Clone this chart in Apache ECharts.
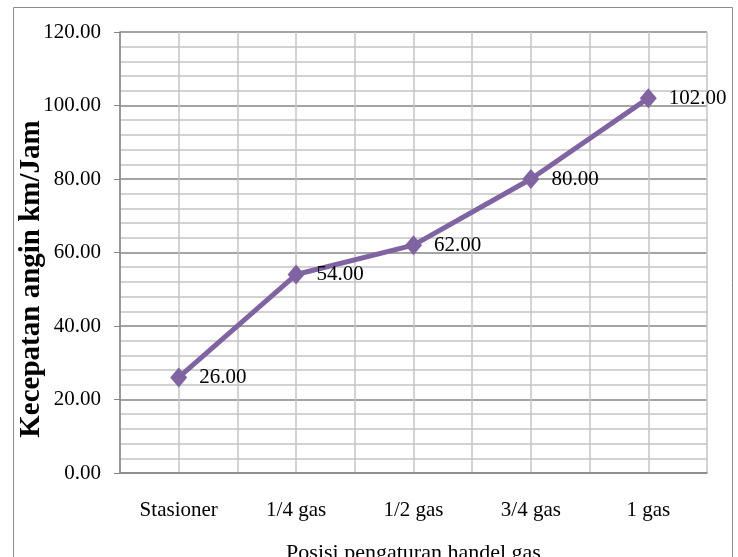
<!DOCTYPE html>
<html>
<head>
<meta charset="utf-8">
<script src="https://cdn.jsdelivr.net/npm/echarts@6/dist/echarts.min.js"></script>
<style>
  html, body { margin: 0; padding: 0; background: #ffffff; }
  #chart { width: 738px; height: 557px; }
</style>
</head>
<body>
<div id="chart"></div>
<script>
// Throttle positions and measured wind speed
const categories = ['Stasioner', '1/4 gas', '1/2 gas', '3/4 gas', '1 gas'];
const speeds = [26, 54, 62, 80, 102];
const yTicks = { min: 0, max: 120, interval: 20 };
const yTitle = 'Kecepatan angin km/Jam';
const xTitle = 'Posisi pengaturan handel gas';

const serif = '"Liberation Serif", "Times New Roman", serif';
const majorGrey = '#868686';
const minorGrey = '#c4c4c4';

const chart = echarts.init(document.getElementById('chart'));
chart.setOption({
  animation: false,
  backgroundColor: '#ffffff',
  graphic: [{
    type: 'rect',
    shape: { x: 13.5, y: 7.5, width: 719, height: 560 },
    style: { fill: 'none', stroke: '#8c8c8c', lineWidth: 1 },
    silent: true,
    z: -1
  }, {
    // vertical axis title
    type: 'text',
    x: 32, y: 279,
    rotation: Math.PI / 2,
    style: {
      text: yTitle,
      fontFamily: serif, fontSize: 29, fontWeight: 'bold', fill: '#000',
      align: 'center', verticalAlign: 'middle'
    },
    silent: true
  }],
  grid: { left: 120, right: 31, top: 32, bottom: 84, outerBoundsMode: 'none', containLabel: false },
  xAxis: [{
    type: 'category',
    data: categories,
    boundaryGap: true,
    name: xTitle,
    nameLocation: 'middle',
    nameGap: 69,
    nameTextStyle: { fontFamily: serif, fontSize: 22, color: '#000' },
    axisLine: { lineStyle: { color: majorGrey, width: 1.5 } },
    axisTick: { alignWithLabel: true, length: 6, lineStyle: { color: majorGrey } },
    axisLabel: { fontFamily: serif, fontSize: 21, color: '#000', margin: 27 },
    splitLine: { show: false }
  }, {
    // half-category vertical grid
    type: 'value',
    min: 0, max: 10, interval: 1,
    position: 'bottom',
    axisLine: { show: false },
    axisTick: { show: false },
    axisLabel: { show: false },
    splitLine: { show: true, lineStyle: { color: minorGrey, width: 1.5 } }
  }],
  yAxis: {
    type: 'value',
    min: yTicks.min, max: yTicks.max, interval: yTicks.interval,
    axisLine: { show: true, lineStyle: { color: majorGrey, width: 1.5 } },
    axisTick: { show: true, length: 6, lineStyle: { color: majorGrey } },
    axisLabel: {
      fontFamily: serif, fontSize: 21, color: '#000', margin: 19,
      formatter: v => v.toFixed(2)
    },
    splitLine: { show: true, lineStyle: { color: majorGrey, width: 1.5 } },
    minorTick: { show: false, splitNumber: 5 },
    minorSplitLine: { show: true, lineStyle: { color: minorGrey, width: 1.5 } }
  },
  series: [{
    type: 'line',
    data: speeds,
    xAxisIndex: 0,
    symbol: 'diamond',
    symbolSize: [17, 20],
    lineStyle: { color: '#8064A2', width: 5 },
    itemStyle: { color: '#8064A2' },
    label: {
      show: true,
      position: 'right',
      distance: 12,
      fontFamily: serif,
      fontSize: 21,
      color: '#000',
      formatter: p => p.value.toFixed(2)
    },
    z: 5
  }]
});
</script>
</body>
</html>
